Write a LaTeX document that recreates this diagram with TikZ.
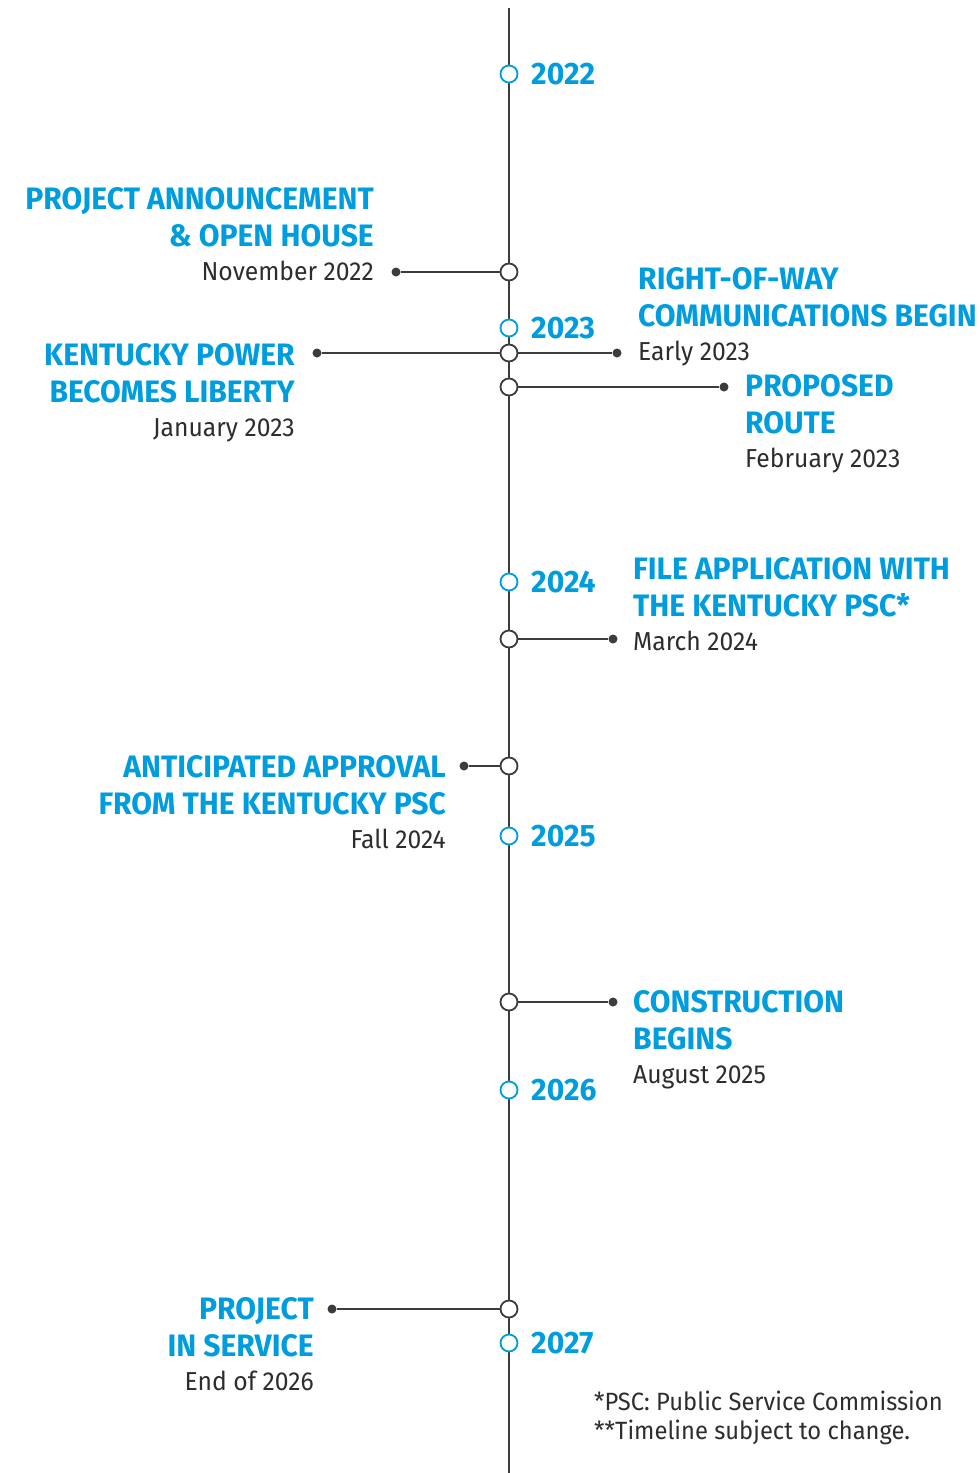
\documentclass[tikz,border=0pt]{standalone}
\usepackage{fontspec}
\setmainfont{Fira Sans}[FakeStretch=0.95]
\newfontfamily\headfamily{Fira Sans}[UprightFont=* Bold, FakeStretch=0.97]
\usetikzlibrary{positioning}
\definecolor{tlblue}{RGB}{0,157,222}
\definecolor{linegray}{RGB}{60,60,60}
\definecolor{textgray}{RGB}{45,45,45}
\newcommand\headfont{\headfamily\fontsize{31}{37}\selectfont}
\newcommand\datefont{\normalfont\fontsize{26}{37}\selectfont}
\newcommand\when[1]{{\datefont\color{textgray}#1}}
\tikzset{
	axis/.style={draw=linegray, line width=2pt},
	connector/.style={draw=linegray, line width=2pt},
	milestone/.style={circle, draw=linegray, fill=white, line width=1.8pt,
		minimum size=17pt, inner sep=0pt},
	yearmark/.style={milestone, draw=tlblue},
	enddot/.style={circle, fill=linegray, minimum size=9pt, inner sep=0pt},
	yearlabel/.style={anchor=west, inner sep=0pt, text=tlblue, font=\headfont},
	leftblock/.style={anchor=north east, align=right, inner sep=0pt,
		text=tlblue, font=\headfont},
	rightblock/.style={anchor=north west, align=left, inner sep=0pt,
		text=tlblue, font=\headfont}
}

\begin{document}
\begin{tikzpicture}[x=1pt, y=-1pt]
	\useasboundingbox (0,0) rectangle (980,1473);
	% time axis
	\coordinate (top) at (509,8);
	\coordinate (bottom) at (509,1473);
	\draw[axis] (top) -- (bottom);
	
	% years
	\node[yearmark] (y22) at (509,74) {};
	\node[yearmark] (y23) at (509,328) {};
	\node[yearmark] (y24) at (509,582) {};
	\node[yearmark] (y25) at (509,836) {};
	\node[yearmark] (y26) at (509,1090) {};
	\node[yearmark] (y27) at (509,1343) {};
	\node[yearlabel] (ly22) at (531,74) {2022};
	\node[yearlabel] (ly23) at (531,328) {2023};
	\node[yearlabel] (ly24) at (531,582) {2024};
	\node[yearlabel] (ly25) at (531,836) {2025};
	\node[yearlabel] (ly26) at (531,1090) {2026};
	\node[yearlabel] (ly27) at (531,1343) {2027};
	
	% milestones
	\node[milestone] (e1) at (509,272) {};
	\node[milestone] (e2) at (509,353) {};
	\node[milestone] (e3) at (509,387) {};
	\node[milestone] (e4) at (509,639) {};
	\node[milestone] (e5) at (509,766) {};
	\node[milestone] (e6) at (509,1002) {};
	\node[milestone] (e7) at (509,1309) {};
	
	\node[enddot] (d1) at (396,272) {};
	\node[enddot] (d2) at (317,353) {};
	\node[enddot] (d3) at (617,353) {};
	\node[enddot] (d4) at (724,387) {};
	\node[enddot] (d5) at (613,639) {};
	\node[enddot] (d6) at (464,766) {};
	\node[enddot] (d7) at (613,1002) {};
	\node[enddot] (d8) at (332,1309) {};
	
	\draw[connector] (e1) -- (d1);
	\draw[connector] (e2) -- (d2);
	\draw[connector] (e2) -- (d3);
	\draw[connector] (e3) -- (d4);
	\draw[connector] (e4) -- (d5);
	\draw[connector] (e5) -- (d6);
	\draw[connector] (e6) -- (d7);
	\draw[connector] (e7) -- (d8);
	
	% texts
	\node[leftblock] (t1) at (374,187)
		{PROJECT ANNOUNCEMENT\\ \& OPEN HOUSE\\[-3pt] \when{November 2022}};
	\node[rightblock] (t2) at (638,267)
		{RIGHT-OF-WAY\\ COMMUNICATIONS BEGIN\\[-3pt] \when{Early 2023}};
	\node[leftblock] (t3) at (295,343)
		{KENTUCKY POWER\\ BECOMES LIBERTY\\[-3pt] \when{January 2023}};
	\node[rightblock] (t4) at (745,374)
		{PROPOSED\\ ROUTE\\[-3pt] \when{February 2023}};
	\node[rightblock] (t5) at (633,557)
		{FILE APPLICATION WITH\\ THE KENTUCKY PSC*\\[-3pt] \when{March 2024}};
	\node[leftblock] (t6) at (446,755)
		{ANTICIPATED APPROVAL\\ FROM THE KENTUCKY PSC\\[-3pt] \when{Fall 2024}};
	\node[rightblock] (t7) at (633,990)
		{CONSTRUCTION\\ BEGINS\\[-3pt] \when{August 2025}};
	\node[leftblock] (t8) at (314,1297)
		{PROJECT\\ IN SERVICE\\[-3pt] \when{End of 2026}};
	
	\node[anchor=north west, align=left, inner sep=0pt, text=textgray,
		font=\normalfont\fontsize{25}{29}\selectfont] (notes) at (594,1391)
		{*PSC: Public Service Commission\\ **Timeline subject to change.};
\end{tikzpicture}
\end{document}
